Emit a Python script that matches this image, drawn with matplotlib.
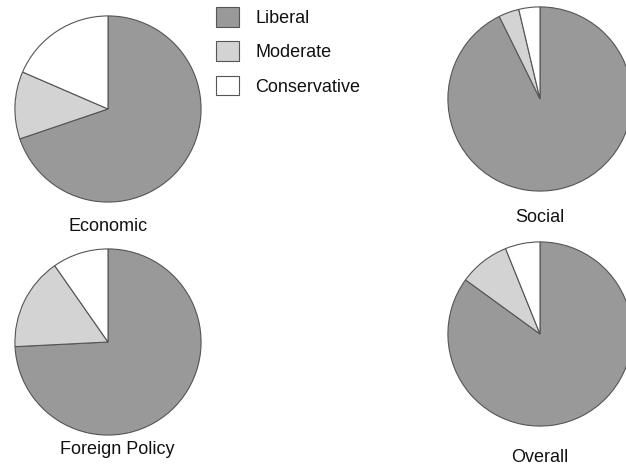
import matplotlib
matplotlib.use("Agg")
import matplotlib.pyplot as plt

# shares in percent: liberal, moderate, conservative
categories = ["Liberal", "Moderate", "Conservative"]
economic = [69.8, 11.7, 18.5]
social = [92.7, 3.6, 3.7]
foreign_policy = [74.2, 16.1, 9.7]
overall = [85.0, 8.9, 6.1]
titles = ["Economic", "Social", "Foreign Policy", "Overall"]

colors = ["#999999", "#d3d3d3", "#ffffff"]
W, H = 626, 472

fig = plt.figure(figsize=(W / 100, H / 100), dpi=100)
plt.rcParams['font.family'] = ['Liberation Sans Narrow', 'Liberation Sans', 'DejaVu Sans']

# pie center x, center y, radius, title x, title y (pixels from top-left)
spots = [(108, 109, 94, 108, 227), (540, 99, 93, 540, 218),
         (108, 342, 94, 117, 450), (540, 334, 93, 540, 457)]
series = [economic, social, foreign_policy, overall]

wedges = None
for vals, title, (cx, cy, r, tx, ty) in zip(series, titles, spots):
    ax = fig.add_axes([(cx - r) / W, 1 - (cy + r) / H, 2 * r / W, 2 * r / H])
    w, _ = ax.pie(vals, colors=colors, startangle=90, counterclock=False,
                  wedgeprops=dict(edgecolor="#555555", linewidth=0.8))
    ax.set_xlim(-1.01, 1.01)
    ax.set_ylim(-1.01, 1.01)
    ax.axis("off")
    if wedges is None:
        wedges = w
    fig.text(tx / W, 1 - ty / H, title, ha="center", va="center", fontsize=13, color="#111111")

leg = fig.legend(wedges, categories, loc="upper left", bbox_to_anchor=(216 / W, 1 - 7 / H),
                 frameon=False, fontsize=13, handlelength=1.28, handleheight=1.3,
                 labelspacing=0.8, handletextpad=0.9, borderpad=0, borderaxespad=0)
for t in leg.get_texts():
    t.set_color("#111111")

fig.savefig("out.png", dpi=100)
